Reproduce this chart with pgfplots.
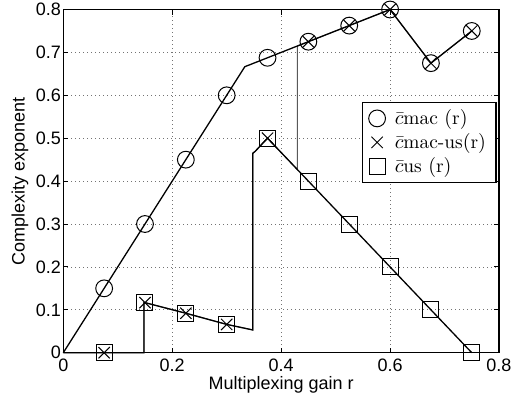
\documentclass[border=0pt]{standalone}
\usepackage{pgfplots}
\pgfplotsset{compat=1.18}
\usepackage{fontspec}
\newfontfamily\arialfont{Liberation Sans}

\begin{document}
\begin{tikzpicture}
\begin{axis}[
  scale only axis, width=217.85pt, height=171.6pt,
  xmin=0, xmax=0.8, ymin=0, ymax=0.8,
  xtick={0,0.2,0.4,0.6,0.8}, xticklabels={0,0.2,0.4,0.6,0.8},
  ytick={0,0.1,0.2,0.3,0.4,0.5,0.6,0.7,0.8},
  yticklabels={0,0.1,0.2,0.3,0.4,0.5,0.6,0.7,0.8},
  grid=major,
  major grid style={black!55, dash pattern=on 0.5pt off 1.5pt, line width=0.4pt},
  tick align=inside,
  major tick length=2.5pt,
  every tick/.style={black, line width=0.5pt},
  axis line style={line width=0.7pt},
  tick label style={font=\arialfont\fontsize{9}{10}\selectfont},
  xticklabel style={inner sep=1pt, yshift=-2pt},
  yticklabel style={inner sep=1pt},
  /pgf/number format/assume math mode=true,
  label style={font=\arialfont\fontsize{9}{10}\selectfont},
  xlabel={Multiplexing gain r},
  ylabel={Complexity exponent},
  xlabel style={at={(axis description cs:0.5,-0.0925)}, anchor=center},
  ylabel style={at={(axis description cs:-0.0994,0.5)}, anchor=center},
  clip=false,
  legend cell align=left,
  legend style={at={(axis description cs:0.9947,0.7314)}, anchor=north east,
    draw=black, line width=0.7pt, fill=white, inner xsep=3pt, inner ysep=2pt,
    nodes={inner xsep=2pt, inner ysep=1.5pt},
    font=\fontsize{9.7}{11}\selectfont},
  legend image code/.code={\path (0pt,0pt) (10.5pt,0pt); \draw[#1] plot coordinates {(4pt,0pt)};},
]
\coordinate (sw) at (rel axis cs:0,0);
% mac-us switching curve (gray)
\addplot[black!65, line width=0.5pt, forget plot] coordinates {
 (0,0)(0.148,0)(0.148,0.1167)(0.15,0.1167)(0.225,0.092)(0.3,0.066)(0.348,0.053)
 (0.348,0.465)(0.352,0.469)(0.375,0.5)(0.43,0.4267)(0.43,0.715)(0.45,0.725)
 (0.6,0.8)(0.675,0.675)(0.75,0.75)};
% c_us curve
\addplot[black, line width=0.65pt, forget plot] coordinates {
 (0,0)(0.148,0)(0.148,0.1167)(0.15,0.1167)(0.225,0.092)(0.3,0.066)(0.348,0.053)
 (0.348,0.465)(0.352,0.469)(0.375,0.5)(0.75,0)};
% c_mac curve
\addplot[black, line width=0.65pt, forget plot] coordinates {
 (0,0)(0.3333,0.6667)(0.6,0.8)(0.675,0.675)(0.75,0.75)};
% markers
\addplot[only marks, mark=o, mark size=4.2pt, mark options={black, line width=0.5pt}] coordinates {
 (0.075,0.15)(0.15,0.3)(0.225,0.45)(0.3,0.6)(0.375,0.6875)(0.45,0.725)(0.525,0.7625)(0.6,0.8)(0.675,0.675)(0.75,0.75)};
\addlegendentry{$\bar{c}\mathrm{mac}\ (\mathrm{r})$}
\addplot[only marks, mark=x, mark size=4pt, mark options={black, line width=0.5pt}] coordinates {
 (0.075,0)(0.15,0.1167)(0.225,0.092)(0.3,0.066)(0.375,0.5)(0.45,0.725)(0.525,0.7625)(0.6,0.8)(0.675,0.675)(0.75,0.75)};
\addlegendentry{$\bar{c}\mathrm{mac\mbox{-}us}(\mathrm{r})$}
\addplot[only marks, mark=square, mark size=4pt, mark options={black, line width=0.5pt}] coordinates {
 (0.075,0)(0.15,0.1167)(0.225,0.092)(0.3,0.066)(0.375,0.5)(0.45,0.4)(0.525,0.3)(0.6,0.2)(0.675,0.1)(0.75,0)};
\addlegendentry{$\bar{c}\mathrm{us}\ (\mathrm{r})$}
\end{axis}
\pgfresetboundingbox
\path[use as bounding box] ([shift={(-31.65pt,-22.65pt)}]sw) rectangle ++(263pt,199pt);
\end{tikzpicture}
\end{document}
